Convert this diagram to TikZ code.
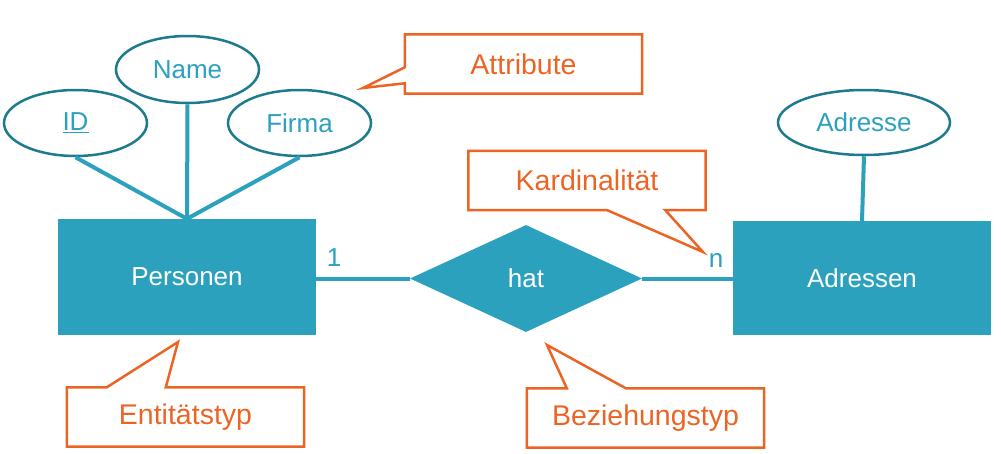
\documentclass[tikz,border=0pt]{standalone}
\usepackage{fontspec}
\setmainfont{Liberation Sans}
\usetikzlibrary{shapes.geometric,calc}
\definecolor{erteal}{HTML}{2CA1BE}
\definecolor{erdark}{HTML}{1E7B8F}
\definecolor{erorange}{HTML}{EC6424}
\tikzset{
  entity/.style={rectangle,fill=erteal,text=white,minimum width=258pt,minimum height=116pt,font=\fontsize{26}{30}\selectfont},
  relation/.style={diamond,fill=erteal,text=white,inner sep=0pt,minimum width=232pt,minimum height=107pt,font=\fontsize{26}{30}\selectfont},
  attrib/.style={ellipse,draw=erdark,line width=2.5pt,fill=white,text=erteal,minimum width=143pt,minimum height=66pt,inner sep=0pt,font=\fontsize{26}{30}\selectfont},
  link/.style={draw=erteal,line width=4pt},
  card/.style={text=erteal,font=\fontsize{26}{30}\selectfont},
  callbox/.style={rectangle,minimum width=237pt,minimum height=59pt,text=erorange,font=\fontsize{28.5}{32}\selectfont},
  callline/.style={draw=erorange,line width=2.5pt,line join=miter}
}
\begin{document}
\begin{tikzpicture}[x=1pt,y=-1pt]
\useasboundingbox (0,0) rectangle (1001,453);
\node[entity] (pers) at (187,277) {Personen};
\node[entity,minimum height=114pt] (adr) at (862,278) {Adressen};
\node[relation] (hat) at (526,278.5) {hat};
\draw[link] (hat.west -| pers.east) -- (hat.west);
\draw[link] (hat.east) -- (hat.east -| adr.west);
\node[card] (one) at (334,258) {1};
\node[card] (many) at (716,260) {n};

\node[attrib] (id) at (75.5,123) {\underline{ID}};
\node[attrib,minimum height=67pt] (name) at (187.5,69.5) {Name};
\node[attrib] (firma) at (299.5,123) {Firma};
\node[attrib,minimum width=172pt,minimum height=65pt] (adresse) at (864,122.5) {Adresse};
\draw[link] (id.south) -- (pers.north);
\draw[link] (name.south) -- (pers.north);
\draw[link] (firma.south) -- (pers.north);
\draw[link] (adresse.south) -- (adr.north);

\node[callbox] (attr) at (523.5,64) {Attribute};
\coordinate (attrTip) at (363,88);
\draw[callline] (attr.north west) -- ($(attr.north west)+(0,33)$) -- (attrTip) -- ($(attr.north west)+(0,49)$) -- (attr.south west) -- (attr.south east) -- (attr.north east) -- cycle;

\node[callbox] (kard) at (587,180.5) {Kardinalität};
\coordinate (kardTip) at (703,252);
\draw[callline] (kard.south west) -- ($(kard.south west)+(139,0)$) -- (kardTip) -- ($(kard.south west)+(197,0)$) -- (kard.south east) -- (kard.north east) -- (kard.north west) -- cycle;

\node[callbox] (ent) at (185.5,417) {Entitätstyp};
\coordinate (entTip) at (178,342);
\draw[callline] (ent.north west) -- ($(ent.north west)+(40,0)$) -- (entTip) -- ($(ent.north west)+(99,0)$) -- (ent.north east) -- (ent.south east) -- (ent.south west) -- cycle;

\node[callbox] (bez) at (645.5,418) {Beziehungstyp};
\coordinate (bezTip) at (547,345);
\draw[callline] (bez.north west) -- ($(bez.north west)+(40,0)$) -- (bezTip) -- ($(bez.north west)+(99,0)$) -- (bez.north east) -- (bez.south east) -- (bez.south west) -- cycle;
\end{tikzpicture}
\end{document}
